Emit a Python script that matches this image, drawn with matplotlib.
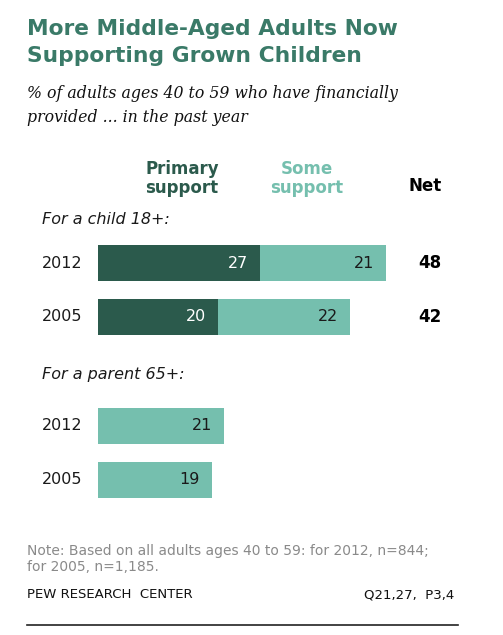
import matplotlib.pyplot as plt

# data
years = ["2012", "2005"]
child_primary = [27, 20]
child_some = [21, 22]
child_net = [48, 42]
parent_some = [21, 19]

W, H = 503, 635
DARK = "#2b5a4c"
LIGHT = "#75bfae"
TITLE = "#3a7a68"

fig = plt.figure(figsize=(W / 100, H / 100), dpi=100)


def px(x, y):
    return x / W, 1 - y / H


def txt(x, y, s, **kw):
    fx, fy = px(x, y)
    fig.text(fx, fy, s, **kw)


# bar axes: x in percent (6 px per point), y in pixel rows
ax = fig.add_axes([98 / W, 0, 300 / W, 1])
ax.set_xlim(0, 50)
ax.set_ylim(H, 0)
ax.axis("off")

bar_h = 36
child_y = [263, 316.5]
parent_y = [425.5, 480]

ax.barh(child_y, child_primary, height=bar_h, color=DARK)
ax.barh(child_y, child_some, left=child_primary, height=bar_h, color=LIGHT)
ax.barh(parent_y, parent_some, height=bar_h, color=LIGHT)

for y, p, s in zip(child_y, child_primary, child_some):
    ax.text(p - 2, y, str(p), ha="right", va="center", color="white", fontsize=11.5)
    ax.text(p + s - 2, y, str(s), ha="right", va="center", color="#1a1a1a", fontsize=11.5)
for y, s in zip(parent_y, parent_some):
    ax.text(s - 2, y, str(s), ha="right", va="center", color="#1a1a1a", fontsize=11.5)

# year labels and net
for y, yr, n in zip(child_y, years, child_net):
    txt(42, y, yr, ha="left", va="center", fontsize=11.5, color="#1a1a1a")
    txt(430, y, str(n), ha="center", va="center", fontsize=12, fontweight="bold", color="black")
for y, yr in zip(parent_y, years):
    txt(42, y, yr, ha="left", va="center", fontsize=11.5, color="#1a1a1a")

# title and subtitle
txt(27, 35, "More Middle-Aged Adults Now", fontsize=15.7, fontweight="bold",
    color=TITLE, va="baseline")
txt(27, 62, "Supporting Grown Children", fontsize=15.7, fontweight="bold",
    color=TITLE, va="baseline")
txt(27, 98, "% of adults ages 40 to 59 who have financially", fontsize=11.3,
    style="italic", family="DejaVu Serif", va="baseline", color="#111111")
txt(27, 122, "provided ... in the past year", fontsize=11.3,
    style="italic", family="DejaVu Serif", va="baseline", color="#111111")

# column headers
txt(182, 174, "Primary", ha="center", va="baseline", fontsize=12, fontweight="bold", color=DARK)
txt(182, 193, "support", ha="center", va="baseline", fontsize=12, fontweight="bold", color=DARK)
txt(307, 174, "Some", ha="center", va="baseline", fontsize=12, fontweight="bold", color=LIGHT)
txt(307, 193, "support", ha="center", va="baseline", fontsize=12, fontweight="bold", color=LIGHT)
txt(425, 191, "Net", ha="center", va="baseline", fontsize=12, fontweight="bold", color="black")

txt(42, 224, "For a child 18+:", va="baseline", fontsize=11.5, style="italic", color="#1a1a1a")
txt(42, 379, "For a parent 65+:", va="baseline", fontsize=11.5, style="italic", color="#1a1a1a")

# footer
txt(27, 555, "Note: Based on all adults ages 40 to 59: for 2012, n=844;",
    va="baseline", fontsize=10, color="#8a8a8a")
txt(27, 571, "for 2005, n=1,185.", va="baseline", fontsize=10, color="#8a8a8a")
txt(27, 598, "PEW RESEARCH  CENTER", va="baseline", fontsize=9.5, color="#111111")
txt(454, 598, "Q21,27,  P3,4", ha="right", va="baseline", fontsize=9.5, color="#111111")

x0, y0 = px(27, 625)
x1, _ = px(458, 625)
fig.add_artist(plt.Line2D([x0, x1], [y0, y0], color="#222222", linewidth=1.2))

fig.savefig("out.png", dpi=100, facecolor="white")
